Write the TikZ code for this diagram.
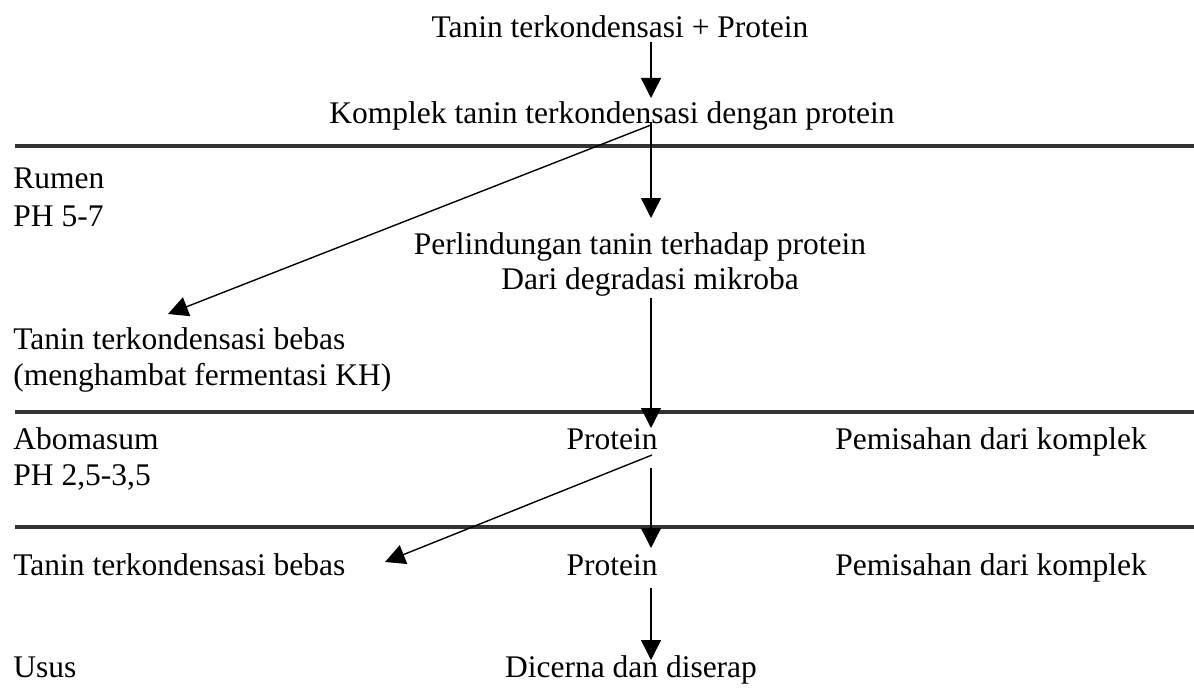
\documentclass[tikz,border=0pt]{standalone}
\usepackage{fontspec}
\setmainfont{Liberation Serif}
\usetikzlibrary{arrows.meta}
\begin{document}
\begin{tikzpicture}[x=0.5pt,y=-0.5pt,
  txt/.style={font=\fontsize{15.75}{18}\selectfont, inner sep=0pt, anchor=base},
  ltxt/.style={txt, anchor=base west},
  sepline/.style={line width=2pt, draw=black!80},
  arr/.style={line width=0.7pt, -{Triangle[length=10pt,width=10pt]}}]
\useasboundingbox (0,0) rectangle (1194,690);
% separator lines
\coordinate (l1a) at (15,146); \coordinate (l1b) at (1194,146);
\coordinate (l2a) at (15,412); \coordinate (l2b) at (1194,412);
\coordinate (l3a) at (15,527); \coordinate (l3b) at (1194,527);
\draw[sepline] (l1a) -- (l1b);
\draw[sepline] (l2a) -- (l2b);
\draw[sepline] (l3a) -- (l3b);
% texts
\node[txt] (t1) at (620,38) {Tanin terkondensasi + Protein};
\node[txt] (kom) at (612,124) {Komplek tanin terkondensasi dengan protein};
\node[ltxt] (rum) at (13,189) {Rumen};
\node[ltxt] (ph1) at (13,226) {PH 5-7};
\node[txt] (per) at (640,254) {Perlindungan tanin terhadap protein};
\node[txt] (dar) at (650,289) {Dari degradasi mikroba};
\node[ltxt] (tb1) at (13,349) {Tanin terkondensasi bebas};
\node[ltxt] (meng) at (13,385) {(menghambat fermentasi KH)};
\node[ltxt] (abo) at (13,449) {Abomasum};
\node[ltxt] (ph2) at (13,485) {PH 2,5-3,5};
\node[txt] (pr1) at (612,449) {Protein};
\node[ltxt] (pem1) at (835,449) {Pemisahan dari komplek};
\node[ltxt] (tb2) at (13,575) {Tanin terkondensasi bebas};
\node[txt] (pr2) at (612,575) {Protein};
\node[ltxt] (pem2) at (835,575) {Pemisahan dari komplek};
\node[ltxt] (usu) at (13,677) {Usus};
\node[txt] (dic) at (631,677) {Dicerna dan diserap};
% arrow end points
\coordinate (a1s) at (651,42);  \coordinate (a1e) at (651,98);
\coordinate (a2s) at (651,122); \coordinate (a2e) at (651,218);
\coordinate (dAs) at (651,125); \coordinate (dAe) at (168,314);
\coordinate (a3s) at (651,298); \coordinate (a3e) at (651,428);
\coordinate (dBs) at (652,455); \coordinate (dBe) at (385,562);
\coordinate (a4s) at (651,468); \coordinate (a4e) at (651,548);
\coordinate (a5s) at (651,588); \coordinate (a5e) at (651,660);
\draw[arr] (a1s) -- (a1e);
\draw[arr] (a2s) -- (a2e);
\draw[arr] (dAs) -- (dAe);
\draw[arr] (a3s) -- (a3e);
\draw[arr] (dBs) -- (dBe);
\draw[arr] (a4s) -- (a4e);
\draw[arr] (a5s) -- (a5e);
\end{tikzpicture}
\end{document}
